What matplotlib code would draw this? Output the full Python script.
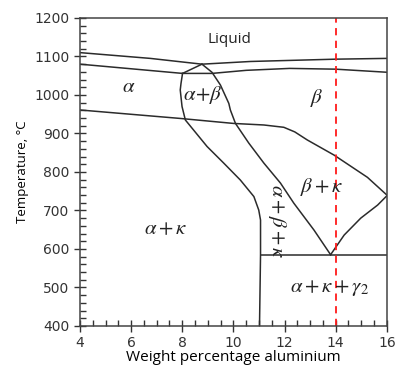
import matplotlib
matplotlib.use("Agg")
import matplotlib.pyplot as plt
from matplotlib.ticker import MultipleLocator

plt.rcParams['mathtext.fontset'] = 'stix'

# phase boundaries (wt% Al, temperature in C)
liq_x = [4, 6.75, 8.77, 10.67, 14, 16]
liq_t = [1110, 1095, 1080, 1087, 1093, 1095]

sol_a_x = [4, 8.01, 8.77]
sol_a_t = [1080, 1056, 1080]

sol_b_x = [8.01, 9.16, 10.5, 12.2, 14, 16]
sol_b_t = [1056, 1056, 1064, 1069, 1067, 1059]

ab_left_x = [8.01, 7.95, 7.92, 7.99, 8.12, 8.44, 8.97, 9.62, 10.27, 10.8, 10.99, 11.06, 11.06, 11.02]
ab_left_t = [1056, 1030, 1013, 970, 935, 909, 866, 823, 779, 736, 701, 675, 585, 400]

ab_right_x = [8.77, 9.16, 9.49, 9.82, 9.88, 10.08, 10.6, 11.19, 11.84, 12.36, 13.15, 13.8]
ab_right_t = [1080, 1059, 1026, 978, 961, 926, 875, 823, 771, 719, 649, 585]

k_solv_x = [4, 7.92, 10.01, 11.19, 11.97, 12.4, 12.89, 13.93, 15.24, 16]
k_solv_t = [961, 939, 926, 922, 916, 904, 883, 844, 786, 740]

k_low_x = [13.8, 14.33, 14.98, 15.64, 16]
k_low_t = [585, 636, 680, 714, 738]

eut_x = [11.06, 16]
eut_t = [585, 585]

alloy_x = 14

labels = [
    ('Liquid', 9.85, 1143, 0, 'text'),
    (r'$\alpha$', 5.9, 1023, 0, 'math'),
    (r'$\alpha\!+\!\beta$', 8.8, 1000, 0, 'math'),
    (r'$\beta$', 13.25, 992, 0, 'math'),
    (r'$\alpha+\kappa$', 7.35, 655, 0, 'math'),
    (r'$\beta+\kappa$', 13.45, 761, 0, 'math'),
    (r'$\alpha+\beta+\kappa$', 11.72, 672, -90, 'math'),
    (r'$\alpha+\kappa+\gamma_2$', 13.75, 499, 0, 'math'),
]

fig = plt.figure(figsize=(3.98, 3.67), dpi=100)
ax = fig.add_axes([0.201, 0.112, 0.771, 0.839])

lc = '#2b2b2b'
lw = 1.1
for xs, ts in [(liq_x, liq_t), (sol_a_x, sol_a_t), (sol_b_x, sol_b_t),
               (ab_left_x, ab_left_t), (ab_right_x, ab_right_t),
               (k_solv_x, k_solv_t), (k_low_x, k_low_t), (eut_x, eut_t)]:
    ax.plot(xs, ts, color=lc, lw=lw)

ax.axvline(alloy_x, color='#ff1a1a', lw=1.3, ls=(0, (4, 3)))

for txt, x, t, rot, kind in labels:
    if kind == 'text':
        ax.text(x, t, txt, ha='center', va='center', fontsize=11,
                family='Open Sans', color='#222222')
    else:
        ax.text(x, t, txt, ha='center', va='center', fontsize=15,
                rotation=rot, color='#222222')

ax.set_xlim(4, 16)
ax.set_ylim(400, 1200)
ax.xaxis.set_major_locator(MultipleLocator(2))
ax.xaxis.set_minor_locator(MultipleLocator(0.5))
ax.yaxis.set_major_locator(MultipleLocator(100))
ax.yaxis.set_minor_locator(MultipleLocator(20))
ax.tick_params(which='major', direction='inout', length=8, width=1, colors='#333333', labelsize=10)
ax.tick_params(which='minor', direction='in', length=4, width=1, colors='#333333')
for s in ax.spines.values():
    s.set_color('#444444')
    s.set_linewidth(1.1)

ax.set_xlabel('Weight percentage aluminium', family='Open Sans', fontsize=11, labelpad=0)
ax.set_ylabel('Temperature, °C', family='Open Sans', fontsize=9.5, labelpad=4)

fig.savefig('out.png', dpi=100)
